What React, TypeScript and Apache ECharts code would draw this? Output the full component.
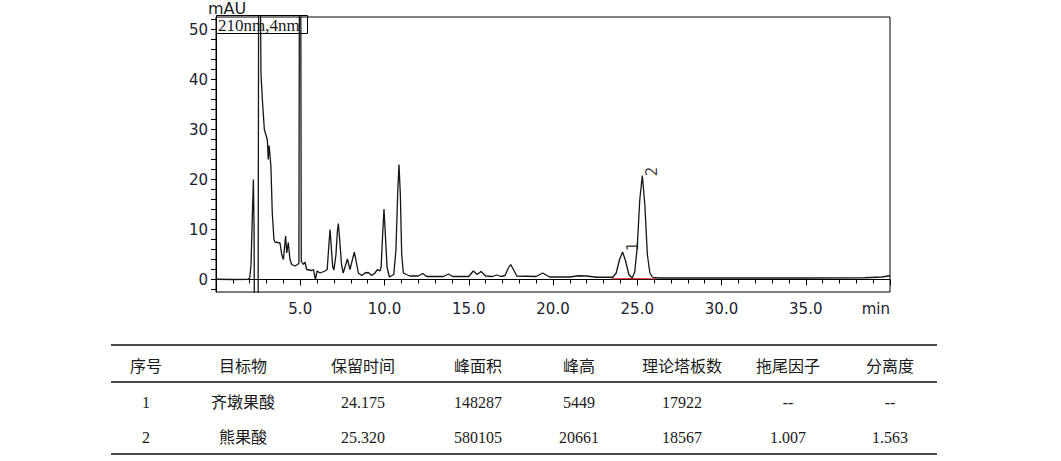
import React, { useEffect, useRef } from 'react';
import * as echarts from 'echarts';

// chromatogram trace, [time (min), signal (mAU)]
const traceData: number[][] = [
  [0, 0.05], [1.0, 0.0], [1.9, 0.05], [2.0, 0.3], [2.08, 3], [2.15, 12], [2.22, 20], [2.26, 10],
  [2.28, -8], [2.5, -8], [2.53, 60], [2.63, 60], [2.67, 41], [2.72, 38], [2.76, 35.5], [2.87, 30],
  [3.0, 28.5], [3.05, 27.8], [3.1, 24], [3.15, 26.8], [3.2, 25], [3.26, 22.5], [3.34, 13.3], [3.44, 8],
  [3.5, 7.5], [3.8, 7.3], [3.9, 5], [4.0, 4.0], [4.13, 8.7], [4.2, 5.3], [4.29, 7.4], [4.39, 4],
  [4.49, 3], [4.69, 2.7], [4.83, 3], [4.92, 3.2], [4.95, 60], [5.03, 60], [5.06, 3.7], [5.18, 3],
  [5.28, 3.5], [5.38, 2], [5.68, 1.8], [5.78, 2.0], [5.9, 0], [6.0, 1.7], [6.17, 1.3], [6.47, 1.7],
  [6.6, 2], [6.7, 7], [6.77, 10], [6.85, 6], [6.93, 2.5], [7.0, 1.9], [7.12, 5], [7.2, 9.5],
  [7.26, 11.2], [7.34, 8], [7.45, 3], [7.55, 1.3], [7.8, 4.1], [7.95, 2], [8.21, 5.5], [8.45, 1.3],
  [8.65, 0.8], [8.84, 1.3], [9.04, 1.4], [9.24, 0.8], [9.43, 1.3], [9.59, 2], [9.73, 1.7], [9.8, 2.5],
  [9.89, 9], [9.97, 14.1], [10.05, 9], [10.15, 2.5], [10.29, 0.5], [10.55, 1.0], [10.68, 6], [10.78, 17],
  [10.86, 23], [10.94, 17], [11.02, 5], [11.12, 1.3], [11.3, 1.0], [11.5, 0.7], [12.0, 0.7], [12.27, 1.2],
  [12.5, 0.6], [13.5, 0.6], [13.8, 1.1], [14.05, 0.6], [15.0, 0.6], [15.27, 1.7], [15.5, 1.0], [15.73, 1.6],
  [16.0, 0.7], [16.4, 0.6], [16.66, 0.9], [16.9, 0.6], [17.15, 0.8], [17.35, 2.3], [17.49, 3.0], [17.65, 2.0],
  [17.85, 0.7], [19.0, 0.6], [19.39, 1.3], [19.8, 0.5], [21.0, 0.5], [21.5, 0.75], [22.0, 0.7], [22.6, 0.45],
  [23.55, 0.45], [23.75, 1.3], [23.95, 4], [24.13, 5.5], [24.3, 3.8], [24.5, 1.0], [24.7, 0.3], [24.85, 1.5],
  [25.0, 6.5], [25.15, 16], [25.3, 20.8], [25.45, 15], [25.6, 5], [25.75, 1.3], [25.9, 0.5], [26.05, 0.35],
  [26.3, 0.3], [30, 0.3], [35, 0.3], [38.5, 0.35], [39.5, 0.5], [40, 0.75],
];

// red integration baseline under peaks 1 and 2
const integrationBaseline: number[][] = [[23.48, 0.15], [24.7, 0.2], [26.1, 0.15]];

// peak numbers, [time, signal, label]
const peakTags: (number | string)[][] = [[24.75, 6.6, '1'], [25.87, 21.6, '2']];

const yTickValues = [-2, 0, 2, 4, 6, 8, 10, 12, 14, 16, 18, 20, 22, 24, 26, 28, 30, 32, 34, 36, 38, 40, 42, 44, 46, 48, 50, 52];
const yLabelValues = [0, 10, 20, 30, 40, 50];
const channelName = '210nm,4nm';

const tableHeader = ['序号', '目标物', '保留时间', '峰面积', '峰高', '理论塔板数', '拖尾因子', '分离度'];
const peakRows = [
  ['1', '齐墩果酸', '24.175', '148287', '5449', '17922', '--', '--'],
  ['2', '熊果酸', '25.320', '580105', '20661', '18567', '1.007', '1.563'],
];

// table layout
const colCenters = [146, 243, 363, 478, 579, 682, 788, 890];
const rowCenters = [365, 402, 437];
const ruleYs = [345, 382, 454];
const tableLeft = 111;
const tableRight = 937;

const sans = 'DejaVu Sans, sans-serif';
const serif = 'Liberation Serif, Noto Sans CJK SC, serif';
const textColor = '#1c1c30';

const txt = (x: number, y: number, text: string, fontSize: number, fontFamily: string, align = 'center') => ({
  type: 'text',
  x,
  y,
  silent: true,
  style: {
    text,
    fontSize,
    fontFamily,
    fill: '#1a1a1a',
    align,
    verticalAlign: 'middle',
    textAlign: align,
    textVerticalAlign: 'middle',
  },
});

const App = () => {
  const chartRef = useRef<HTMLDivElement>(null);

  useEffect(() => {
    if (!chartRef.current) return;
    const chart = echarts.init(chartRef.current, null, { renderer: 'svg' });

    const graphics: any[] = [];
    // y-axis unit and channel box
    graphics.push(txt(208, 8, 'mAU', 16, sans, 'left'));
    graphics.push({
      type: 'rect',
      shape: { x: 216.5, y: 15.5, width: 91, height: 18 },
      style: { fill: 'none', stroke: '#000', lineWidth: 1 },
      silent: true,
    });
    graphics.push(txt(218, 25, channelName, 17, 'Liberation Serif, serif', 'left'));

    // table rules
    ruleYs.forEach((y) => {
      graphics.push({
        type: 'line',
        shape: { x1: tableLeft, y1: y, x2: tableRight, y2: y },
        style: { stroke: '#111', lineWidth: 1.3 },
        silent: true,
      });
    });
    tableHeader.forEach((h, i) => {
      graphics.push(txt(colCenters[i], rowCenters[0], h, 16, 'Noto Sans CJK SC, sans-serif'));
    });
    peakRows.forEach((row, r) => {
      row.forEach((cell, i) => {
        graphics.push(txt(colCenters[i], rowCenters[r + 1], cell, 16, serif));
      });
    });

    const option = {
      animation: false,
      backgroundColor: '#fff',
      grid: {
        left: 216,
        top: 17,
        width: 674,
        height: 275,
        show: true,
        borderColor: '#000',
        borderWidth: 1,
        backgroundColor: 'transparent',
      },
      xAxis: {
        type: 'value',
        min: 0,
        max: 40,
        interval: 5,
        axisLine: { show: true, lineStyle: { color: '#000', width: 1 } },
        axisTick: { show: true, length: 6, lineStyle: { color: '#000' } },
        minorTick: { show: true, splitNumber: 5, length: 4, lineStyle: { color: '#000' } },
        splitLine: { show: false },
        minorSplitLine: { show: false },
        axisLabel: {
          color: textColor,
          fontSize: 15,
          fontFamily: sans,
          margin: 9,
          alignMaxLabel: 'right',
          formatter: (v: number) => (v === 0 ? '' : v === 40 ? 'min' : v.toFixed(1)),
        },
      },
      yAxis: {
        type: 'value',
        min: -2.5,
        max: 52.5,
        axisLine: { show: true, lineStyle: { color: '#000', width: 1 } },
        axisTick: { show: true, length: 5, customValues: yTickValues, lineStyle: { color: '#000' } },
        splitLine: { show: false },
        axisLabel: {
          customValues: yLabelValues,
          color: textColor,
          fontSize: 15,
          fontFamily: sans,
          margin: 8,
        },
      },
      series: [
        {
          name: 'chromatogram',
          type: 'line',
          data: traceData,
          showSymbol: false,
          clip: true,
          lineStyle: { color: '#151515', width: 1.3 },
          z: 3,
        },
        {
          name: 'baseline',
          type: 'line',
          data: integrationBaseline,
          showSymbol: false,
          lineStyle: { color: '#e8383d', width: 1.2 },
          z: 2,
        },
        {
          name: 'peaks',
          type: 'scatter',
          data: peakTags,
          symbolSize: 1,
          itemStyle: { color: 'transparent' },
          label: {
            show: true,
            position: 'inside',
            rotate: 90,
            formatter: (p: any) => p.value[2],
            color: '#111',
            fontSize: 15,
            fontFamily: sans,
          },
          z: 4,
        },
      ],
      graphic: graphics,
    };

    chart.setOption(option as any);
    return () => {
      chart.dispose();
    };
  }, []);

  return (
    <div
      ref={chartRef}
      style={{ position: 'absolute', left: 0, top: 0, width: 1061, height: 461, background: '#fff' }}
    />
  );
};

export default App;
